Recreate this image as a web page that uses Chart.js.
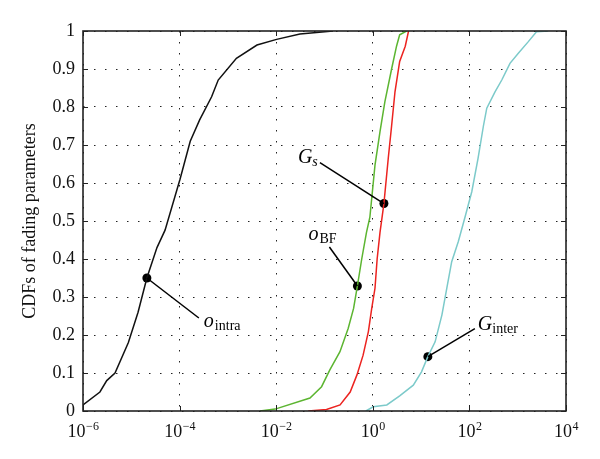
<!DOCTYPE html>
<html>
<head>
<meta charset="utf-8">
<script src="https://cdn.jsdelivr.net/npm/chart.js@4"></script>
<style>
    html, body { margin: 0; padding: 0; background: #fff; }
    #wrap { width: 600px; height: 459px; }
</style>
</head>
<body>
<div id="wrap"><canvas id="cdf-chart"></canvas></div>
<script>
// CDF curves (x = parameter value, y = CDF)
const intraX = [1e-6, 2.24e-6, 3.1e-6, 4.6e-6, 8.7e-6, 1.38e-5, 2.1e-5, 3.4e-5, 5.0e-5, 1.02e-4, 1.66e-4, 2.6e-4, 4.6e-4, 6.3e-4, 1.5e-3, 4.0e-3, 1.02e-2, 3.1e-2, 0.15];
const intraY = [0.016, 0.05, 0.08, 0.10, 0.18, 0.26, 0.35, 0.43, 0.476, 0.61, 0.71, 0.766, 0.827, 0.871, 0.928, 0.963, 0.978, 0.992, 1.0];

const bfX = [4.6e-3, 9.5e-3, 0.05, 0.087, 0.129, 0.209, 0.31, 0.40, 0.48, 0.59, 0.74, 0.87, 1.11, 1.41, 1.78, 2.45, 3.1, 3.6, 5.0];
const bfY = [0, 0.005, 0.034, 0.064, 0.108, 0.156, 0.218, 0.27, 0.329, 0.40, 0.47, 0.51, 0.647, 0.735, 0.814, 0.90, 0.96, 0.99, 1.0];

const gsX = [0.046, 0.11, 0.21, 0.34, 0.47, 0.63, 0.81, 0.95, 1.11, 1.23, 1.41, 1.58, 1.70, 2.09, 2.45, 2.88, 3.6, 4.7, 5.5];
const gsY = [0, 0.004, 0.016, 0.05, 0.095, 0.147, 0.209, 0.27, 0.323, 0.40, 0.47, 0.516, 0.546, 0.665, 0.75, 0.84, 0.92, 0.96, 1.0];

const interX = [0.72, 1.02, 1.95, 3.6, 6.9, 10.2, 13.8, 19.5, 27, 34, 43, 59, 81, 112, 151, 195, 229, 339, 468, 692, 1020, 1660, 2450, 4270];
const interY = [0, 0.011, 0.016, 0.04, 0.068, 0.103, 0.143, 0.182, 0.253, 0.323, 0.393, 0.446, 0.51, 0.577, 0.665, 0.75, 0.797, 0.84, 0.871, 0.915, 0.941, 0.972, 0.998, 1.0];

// annotated points
const annoBase = ['o', 'o', 'G', 'G'];
const annoSub = ['intra', 'BF', 's', 'inter'];
const annoX = [2.1e-5, 0.48, 1.70, 13.8];
const annoY = [0.35, 0.329, 0.546, 0.143];

const xTicks = [1e-6, 1e-4, 1e-2, 1e0, 1e2, 1e4];
const xExponents = ['−6', '−4', '−2', '0', '2', '4'];

const SERIF = '"Liberation Serif", "DejaVu Serif", serif';

const toPoints = (xs, ys) => xs.map((x, i) => ({ x: x, y: ys[i] }));

// pixel offsets for leader lines and labels, relative to each dot
const leaderEnd = [[52, 40], [-28, -39], [-64, -41], [47, -28]];
const labelPos = [[57, 49], [-49, -46], [-86, -41], [50, -27]];

const framePlugin = {
    id: 'frame',
    afterDraw(chart) {
        const ctx = chart.ctx;
        const a = chart.chartArea;
        const xs = chart.scales.x;
        const ys = chart.scales.y;
        ctx.save();

        // inward tick marks
        ctx.strokeStyle = '#222';
        ctx.lineWidth = 1;
        ctx.beginPath();
        xTicks.forEach(v => {
            const px = Math.round(xs.getPixelForValue(v)) + 0.5;
            ctx.moveTo(px, a.bottom); ctx.lineTo(px, a.bottom - 5);
            ctx.moveTo(px, a.top); ctx.lineTo(px, a.top + 5);
        });
        ys.ticks.forEach(t => {
            const py = Math.round(ys.getPixelForValue(t.value)) + 0.5;
            ctx.moveTo(a.left, py); ctx.lineTo(a.left + 5, py);
            ctx.moveTo(a.right, py); ctx.lineTo(a.right - 5, py);
        });
        ctx.stroke();

        // box
        ctx.lineWidth = 1.6;
        ctx.strokeStyle = '#222';
        ctx.strokeRect(a.left, a.top, a.right - a.left, a.bottom - a.top);

        // x tick labels as 10^n
        ctx.fillStyle = '#111';
        ctx.textBaseline = 'alphabetic';
        ctx.textAlign = 'left';
        xTicks.forEach((v, i) => {
            const px = xs.getPixelForValue(v);
            ctx.font = '18px ' + SERIF;
            const w1 = ctx.measureText('10').width;
            ctx.font = '12px ' + SERIF;
            const w2 = ctx.measureText(xExponents[i]).width;
            const left = px - (w1 + w2) / 2;
            ctx.font = '18px ' + SERIF;
            ctx.fillText('10', left, 437);
            ctx.font = '12px ' + SERIF;
            ctx.fillText(xExponents[i], left + w1 + 0.5, 430);
        });
        ctx.restore();
    },
    afterDatasetsDraw(chart) {
        const ctx = chart.ctx;
        const xs = chart.scales.x;
        const ys = chart.scales.y;
        ctx.save();
        ctx.strokeStyle = '#000';
        ctx.fillStyle = '#000';
        ctx.lineWidth = 1.5;
        annoX.forEach((v, i) => {
            const px = xs.getPixelForValue(v);
            const py = ys.getPixelForValue(annoY[i]);
            ctx.beginPath();
            ctx.moveTo(px, py);
            ctx.lineTo(px + leaderEnd[i][0], py + leaderEnd[i][1]);
            ctx.stroke();

            const lx = px + labelPos[i][0];
            const ly = py + labelPos[i][1];
            ctx.font = 'italic 20px ' + SERIF;
            ctx.textAlign = 'left';
            ctx.textBaseline = 'alphabetic';
            ctx.fillText(annoBase[i], lx, ly);
            const w = ctx.measureText(annoBase[i]).width;
            ctx.font = (annoSub[i] === 's' ? 'italic ' : '') + '14px ' + SERIF;
            ctx.fillText(annoSub[i], lx + w + (annoBase[i] === 'G' ? 0 : 1), ly + 3);
        });
        ctx.restore();
    }
};

document.addEventListener('DOMContentLoaded', () => {
    const canvas = document.getElementById('cdf-chart');

    const curve = (xs, ys, color) => ({
        data: toPoints(xs, ys),
        showLine: true,
        borderColor: color,
        borderWidth: 1.5,
        pointRadius: 0,
        tension: 0,
        fill: false
    });

    new Chart(canvas, {
        type: 'scatter',
        data: {
            datasets: [
                curve(intraX, intraY, '#111111'),
                curve(bfX, bfY, '#5cb531'),
                curve(gsX, gsY, '#ec2320'),
                curve(interX, interY, '#7ccaca'),
                {
                    data: toPoints(annoX, annoY),
                    showLine: false,
                    pointRadius: 4.5,
                    pointBackgroundColor: '#000',
                    pointBorderColor: '#000',
                    pointBorderWidth: 0
                }
            ]
        },
        options: {
            responsive: true,
            maintainAspectRatio: false,
            animation: false,
            layout: { padding: { top: 31, right: 34, bottom: 0, left: 0 } },
            plugins: {
                legend: { display: false },
                tooltip: { enabled: false }
            },
            scales: {
                x: {
                    type: 'logarithmic',
                    min: 1e-6,
                    max: 1e4,
                    afterBuildTicks: s => { s.ticks = xTicks.map(v => ({ value: v })); },
                    afterFit: s => { s.height = 48; },
                    ticks: { display: false },
                    grid: { color: '#222', lineWidth: 1, drawTicks: false },
                    border: { display: false, dash: [1.5, 9.5] }
                },
                y: {
                    min: 0,
                    max: 1,
                    afterFit: s => { s.width = 83; },
                    ticks: {
                        stepSize: 0.1,
                        padding: 8,
                        color: '#111',
                        font: { family: SERIF, size: 18 },
                        callback: v => String(+v.toFixed(1))
                    },
                    title: {
                        display: true,
                        text: 'CDFs of fading parameters',
                        color: '#111',
                        font: { family: SERIF, size: 18 },
                        padding: { top: 19, bottom: 0 }
                    },
                    grid: { color: '#222', lineWidth: 1, drawTicks: false },
                    border: { display: false, dash: [1.5, 9.5] }
                }
            }
        },
        plugins: [framePlugin]
    });
});
</script>
</body>
</html>
